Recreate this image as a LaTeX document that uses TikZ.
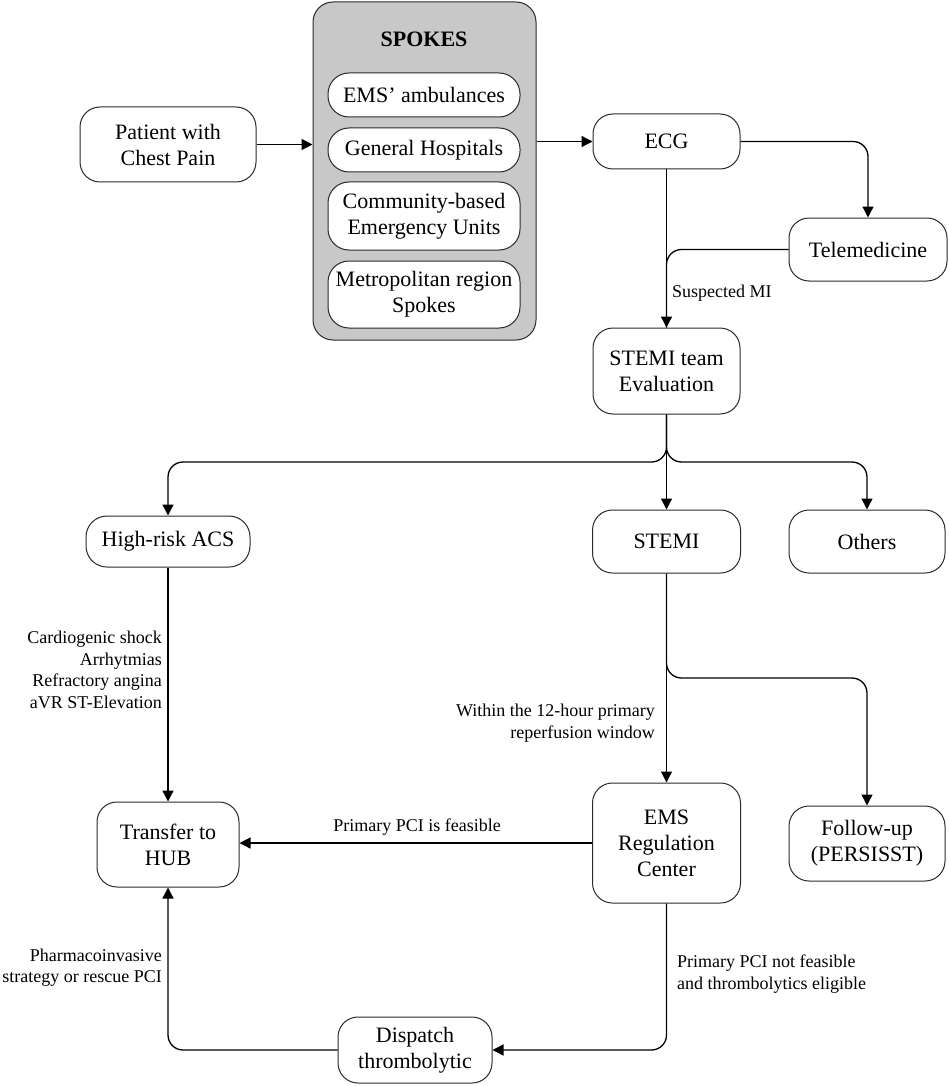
\documentclass[tikz,border=0pt]{standalone}
\usepackage{fontspec}
\setmainfont{Liberation Serif}
\usetikzlibrary{arrows.meta}
\definecolor{spokegray}{HTML}{C8C8C8}
\definecolor{linecol}{HTML}{2A2A2A}
\begin{document}
\begin{tikzpicture}[x=1pt,y=-1pt,
  box/.style={draw=linecol, line width=1pt, rounded corners=20pt, fill=white,
    align=center, inner sep=0pt, font=\fontsize{22}{26}\selectfont},
  pill/.style={box, rounded corners=21pt},
  lbl/.style={font=\fontsize{18}{21.5}\selectfont, inner sep=0pt},
  conn/.style={draw=black, line width=1.3pt},
  arr/.style={conn, -{Triangle[length=11pt,width=11pt]}},
  rc/.style={rounded corners=15pt}]
\useasboundingbox (0,0) rectangle (948,1086);

% nodes
\node[box, minimum width=176pt, minimum height=75pt] (patient) at (168,144.5) {Patient with\\Chest Pain};
\node[draw=linecol, line width=1pt, fill=spokegray, rounded corners=20pt,
  minimum width=223pt, minimum height=338pt, inner sep=0pt] (spokes) at (424.5,171) {};
\node[font=\fontsize{22}{26}\selectfont\bfseries, inner sep=0pt] (spokestitle) at (424,39) {SPOKES};
\node[pill, minimum width=192pt, minimum height=44pt] (ems) at (424,95) {EMS’ ambulances};
\node[pill, minimum width=192pt, minimum height=44pt] (gen) at (424,150) {General Hospitals};
\node[pill, minimum width=192pt, minimum height=68pt] (comm) at (424,216) {Community-based\\Emergency Units};
\node[pill, minimum width=192pt, minimum height=67pt] (metro) at (424,294.5) {Metropolitan region\\Spokes};

\node[box, minimum width=147pt, minimum height=55pt] (ecg) at (666.5,141.5) {ECG};
\node[box, minimum width=158pt, minimum height=63pt] (tele) at (868,249.5) {Telemedicine};
\node[box, minimum width=147pt, minimum height=86pt] (team) at (666.5,371) {STEMI team\\Evaluation};

\node[pill, minimum width=164pt, minimum height=51pt] (hra) at (168,541.5) {High-risk ACS};
\node[box, minimum width=148pt, minimum height=63pt] (stemi) at (666.5,541.5) {STEMI};
\node[box, minimum width=156pt, minimum height=63pt] (others) at (867,541.5) {Others};

\node[box, minimum width=142pt, minimum height=85pt] (transfer) at (168,844.5) {Transfer to\\HUB};
\node[box, minimum width=148pt, minimum height=120pt] (emsrc) at (666.5,843) {EMS\\Regulation\\Center};
\node[box, minimum width=156pt, minimum height=75pt] (follow) at (867,843.5) {Follow-up\\(PERSISST)};
\node[box, minimum width=154pt, minimum height=66pt] (dispatch) at (415,1050) {Dispatch\\thrombolytic};

% helper coordinates
\coordinate (bl) at (168,462);
\coordinate (br) at (867,462);
\coordinate (fr) at (867,678);

% connectors
\draw[arr] (patient.east) -- (spokes.west |- patient.east);
\draw[arr] (spokes.east |- ecg.west) -- (ecg.west);
\draw[arr, rc] (ecg.east) -| (tele.north);
\draw[arr] (ecg.south) -- (team.north);
\draw[conn, rc] (tele.west) -| (team.north);

\draw[arr] (team.south) -- (stemi.north);
\draw[arr, rc] (team.south) |- (bl) -- (hra.north);
\draw[arr, rc] (team.south) |- (br) -- (others.north);

\draw[arr] (hra.south) -- (transfer.north);
\draw[arr] (stemi.south) -- (emsrc.north);
\draw[arr, rc] (stemi.south) |- (fr) -- (follow.north);

\draw[arr] (emsrc.west) -- (transfer.east |- emsrc.west);
\draw[arr, rc] (emsrc.south) |- (dispatch.east);
\draw[arr, rc] (dispatch.west) -| (transfer.south);

% labels
\node[lbl, anchor=east, align=right] (lhra) at (162,670) {Cardiogenic shock\\Arrhytmias\\Refractory angina\\aVR ST-Elevation};
\node[lbl, anchor=west] (lsusp) at (672,293) {Suspected MI};
\node[lbl, anchor=east, align=right] (lwin) at (655,723) {Within the 12-hour primary\\reperfusion window};
\node[lbl] (lfeas) at (417,827) {Primary PCI is feasible};
\node[lbl, anchor=west, align=left] (lnot) at (677,974) {Primary PCI not feasible\\and thrombolytics eligible};
\node[lbl, anchor=east, align=right] (lpharm) at (162,967.5) {Pharmacoinvasive\\strategy or rescue PCI};
\end{tikzpicture}
\end{document}
